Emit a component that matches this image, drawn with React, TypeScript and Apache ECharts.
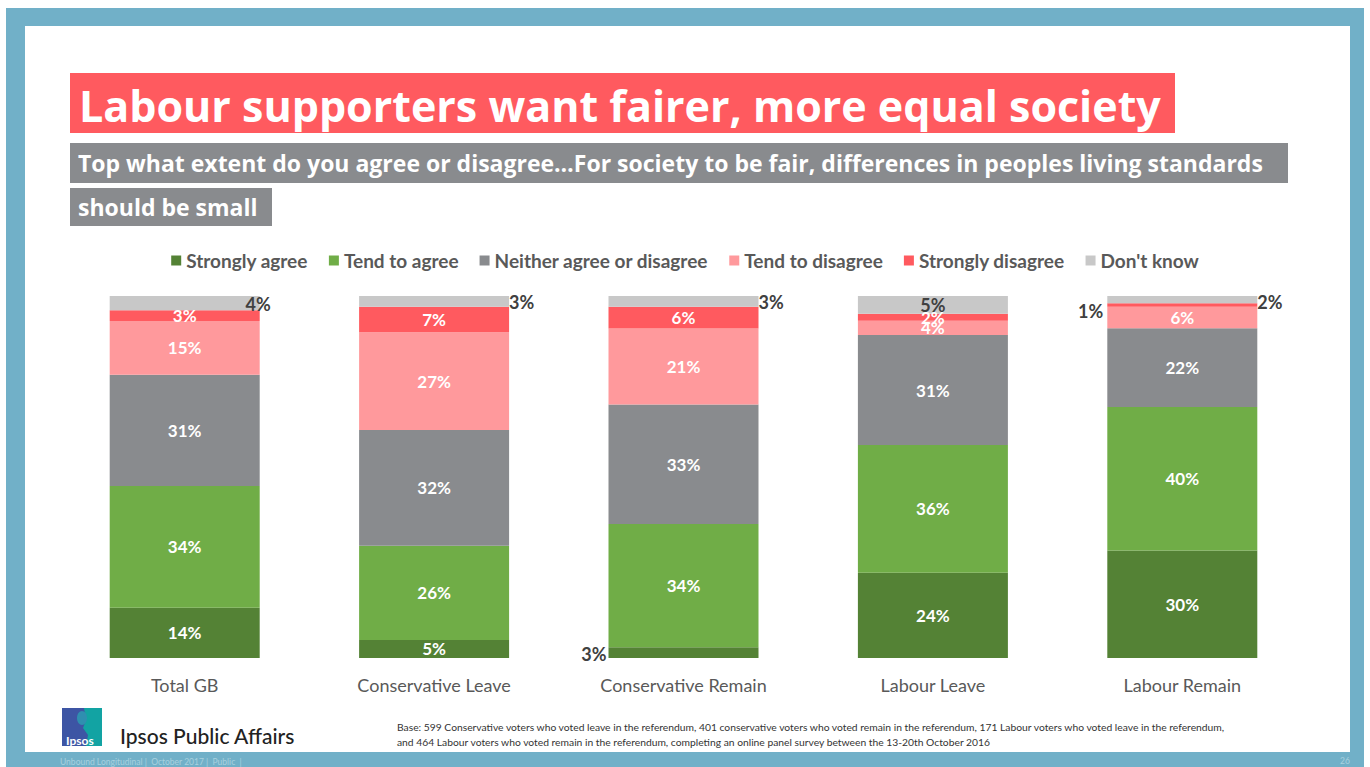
import React, { useEffect, useRef } from "react";
import * as echarts from "echarts";

const categories = ["Total GB", "Conservative Leave", "Conservative Remain", "Labour Leave", "Labour Remain"];
const seriesNames = ["Strongly agree", "Tend to agree", "Neither agree or disagree", "Tend to disagree", "Strongly disagree", "Don't know"];
const stronglyAgree = [14, 5, 3, 24, 30];
const tendToAgree = [34, 26, 34, 36, 40];
const neitherAgree = [31, 32, 33, 31, 22];
const tendToDisagree = [15, 27, 21, 4, 6];
const stronglyDisagree = [3, 7, 6, 2, 1];
const dontKnow = [4, 3, 3, 5, 2];

const seriesValues = [stronglyAgree, tendToAgree, neitherAgree, tendToDisagree, stronglyDisagree, dontKnow];
const colors = ["#548235", "#70ad47", "#898b8e", "#ff999c", "#ff5a5f", "#c8c8c8"];

const DARK = "#404040";
const FONT = "Lato, 'Open Sans', sans-serif";
const WIDE = "'Open Sans', Lato, sans-serif";

// label overrides keyed "series-category"
const labelOverrides: Record<string, any> = {
  "5-0": { position: "insideRight", offset: [16, 1], color: DARK, fontSize: 18 },
  "5-1": { position: "right", distance: 0, offset: [0, 1], color: DARK, fontSize: 18 },
  "5-2": { position: "right", distance: 0, offset: [0, 1], color: DARK, fontSize: 18 },
  "5-3": { position: "inside", color: DARK, fontSize: 18 },
  "5-4": { position: "right", distance: 0, offset: [0, 2], color: DARK, fontSize: 18 },
  "4-4": { position: "left", distance: 4, offset: [0, 6], color: DARK, fontSize: 18 },
  "0-2": { position: "left", distance: 2, offset: [0, 1], color: DARK, fontSize: 18 },
};

export default function App() {
  const ref = useRef<HTMLDivElement>(null);
  useEffect(() => {
    document.body.style.margin = "0";
    const chart = echarts.init(ref.current!, null, { renderer: "svg" });
    const totals = categories.map((_, ci) => seriesValues.reduce((s, arr) => s + arr[ci], 0));
    const series = seriesNames.map((name, si) => ({
      name,
      type: "bar",
      stack: "total",
      barWidth: 150,
      itemStyle: { color: colors[si] },
      label: {
        show: true,
        position: "inside",
        color: "#ffffff",
        fontWeight: "bold",
        fontSize: 17,
        fontFamily: FONT,
        formatter: (p: any) => `${seriesValues[si][p.dataIndex]}%`,
      },
      data: seriesValues[si].map((v, ci) => {
        const item: any = { value: (v / totals[ci]) * 100 };
        const o = labelOverrides[`${si}-${ci}`];
        if (o) item.label = o;
        return item;
      }),
    }));

    const graphic: any[] = [
      { type: "rect", shape: { x: 6, y: 8, width: 1358, height: 759 }, style: { fill: "#71b0c8" }, z: -10 },
      { type: "rect", shape: { x: 25, y: 26, width: 1325, height: 726 }, style: { fill: "#ffffff" }, z: -9 },
      { type: "rect", shape: { x: 70, y: 73, width: 1105, height: 60 }, style: { fill: "#ff5a5f" } },
      {
        type: "text", x: 79, y: 105,
        style: { text: "Labour supporters want fairer, more equal society", fill: "#ffffff", font: `bold 43px ${WIDE}`, verticalAlign: "middle" },
      },
      { type: "rect", shape: { x: 70, y: 143, width: 1218, height: 40 }, style: { fill: "#898b8e" } },
      {
        type: "text", x: 78, y: 163,
        style: { text: "Top what extent do you agree or disagree…For society to be fair, differences in peoples living standards", fill: "#ffffff", font: `bold 23px ${WIDE}`, verticalAlign: "middle" },
      },
      { type: "rect", shape: { x: 70, y: 188, width: 202, height: 38 }, style: { fill: "#898b8e" } },
      {
        type: "text", x: 78, y: 207,
        style: { text: "should be small", fill: "#ffffff", font: `bold 23px ${WIDE}`, verticalAlign: "middle" },
      },
      // logo
      { type: "rect", shape: { x: 62, y: 708, width: 40, height: 38 }, style: { fill: "#3d55a4" } },
      { type: "polygon", shape: { points: [[84, 708], [102, 708], [102, 746], [86, 746], [88, 735], [83, 728], [86, 720]] }, style: { fill: "#12a3a3" } },
      { type: "ellipse", shape: { cx: 82, cy: 718, rx: 5, ry: 7 }, style: { fill: "#2f8fb0" } },
      { type: "text", x: 66, y: 740, style: { text: "Ipsos", fill: "#ffffff", font: `bold 12px ${FONT}`, verticalAlign: "middle" } },
      { type: "text", x: 120, y: 735, style: { text: "Ipsos Public Affairs", fill: "#222222", font: `500 21px ${FONT}`, verticalAlign: "middle" } },
      {
        type: "text", x: 397, y: 727,
        style: { text: "Base: 599 Conservative voters who voted leave in the referendum, 401 conservative voters who voted remain in the referendum, 171 Labour voters who voted leave in the referendum,", fill: "#333333", font: `10.3px ${FONT}`, verticalAlign: "middle" },
      },
      {
        type: "text", x: 397, y: 742,
        style: { text: "and 464 Labour voters who voted remain in the referendum, completing an online panel survey between the 13-20th October 2016", fill: "#333333", font: `10.3px ${FONT}`, verticalAlign: "middle" },
      },
      { type: "text", x: 60, y: 762, style: { text: "Unbound Longitudinal |  October 2017 |  Public  |", fill: "#a8d0df", font: `8.5px ${FONT}`, verticalAlign: "middle" } },
      { type: "text", x: 1340, y: 761, style: { text: "26", fill: "#a8d0df", font: `8.5px ${FONT}`, verticalAlign: "middle" } },
    ];

    chart.setOption({
      animation: false,
      backgroundColor: "#ffffff",
      graphic,
      legend: {
        top: 246,
        left: "center",
        icon: "rect",
        itemWidth: 10,
        itemHeight: 10,
        itemGap: 21,
        textStyle: { color: "#595959", fontSize: 19, fontWeight: "bold", fontFamily: FONT },
        data: seriesNames,
      },
      grid: { left: 60, right: 63, top: 296, bottom: 109 },
      xAxis: {
        type: "category",
        data: categories,
        axisLine: { show: false },
        axisTick: { show: false },
        axisLabel: { color: "#595959", fontSize: 18, fontFamily: FONT, margin: 18 },
      },
      yAxis: { type: "value", min: 0, max: 100, show: false },
      series,
    });
    return () => chart.dispose();
  }, []);
  return <div ref={ref} style={{ position: "fixed", left: 0, top: 0, width: 1370, height: 767 }} />;
}
